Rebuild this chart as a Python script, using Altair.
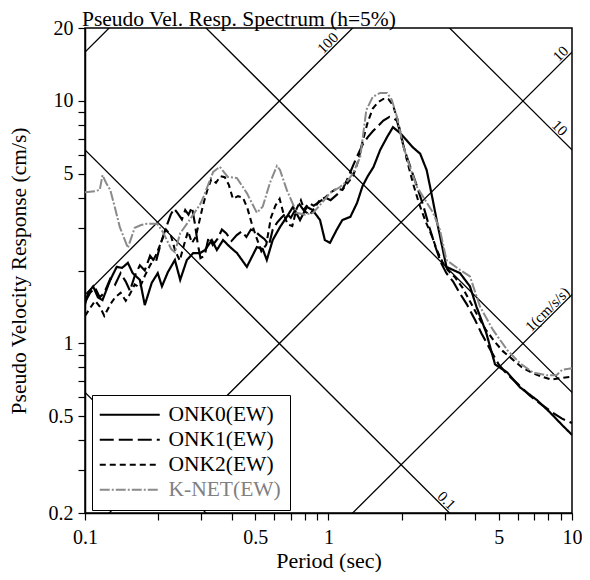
import math
import altair as alt
import pandas as pd

SERIES = ["ONK0(EW)", "ONK1(EW)", "ONK2(EW)", "K-NET(EW)"]

onk0_T = [0.100,0.103,0.108,0.113,0.118,0.127,0.135,0.142,0.150,0.157,
          0.168,0.176,0.188,0.199,0.207,0.219,0.234,0.246,0.262,0.278,
          0.297,0.311,0.332,0.348,0.369,0.394,0.421,0.462,0.508,0.537,
          0.558,0.590,0.632,0.674,0.715,0.764,0.815,0.861,0.923,0.966,
          1.014,1.08,1.14,1.23,1.31,1.38,1.45,1.53,1.63,1.74,
          1.84,1.97,2.09,2.22,2.38,2.53,2.61,2.68,2.78,2.95,
          3.05,3.47,3.81,4.05,4.44,4.83,5.42,6.11,7.17,8.12,
          9.13,10.0]
onk0_V = [1.45,1.62,1.72,1.55,1.51,1.83,2.07,2.05,2.15,1.95,
          1.83,1.44,1.78,1.95,1.72,1.97,2.21,1.83,2.21,2.36,
          2.36,2.43,2.67,2.43,2.67,2.50,2.36,2.07,2.50,2.45,
          2.21,2.67,3.02,3.33,3.66,3.23,3.66,3.55,3.23,2.67,
          2.60,2.94,3.23,3.33,3.80,4.46,4.90,5.34,6.28,7.10,
          7.80,7.37,6.90,6.44,6.06,5.19,4.46,3.91,3.23,2.43,
          2.07,1.95,1.72,1.42,1.11,0.82,0.76,0.66,0.585,0.52,
          0.46,0.42]

onk1_T = [0.100,0.105,0.110,0.115,0.120,0.127,0.133,0.140,0.147,0.153,
          0.160,0.168,0.176,0.185,0.195,0.205,0.215,0.225,0.232,0.240,
          0.250,0.258,0.266,0.275,0.283,0.290,0.298,0.310,0.322,0.335,
          0.350,0.365,0.380,0.400,0.420,0.440,0.460,0.480,0.500,0.520,
          0.545,0.570,0.590,0.615,0.640,0.670,0.700,0.730,0.760,0.790,
          0.830,0.870,0.920,0.970,1.02,1.08,1.14,1.20,1.26,1.31,
          1.38,1.45,1.52,1.60,1.68,1.78,1.85,1.91,1.97,2.05,
          2.16,2.30,2.45,2.60,2.75,2.90,3.05,3.25,3.45,3.70,
          4.00,4.25,4.60,5.00,5.40,6.00,6.70,7.50,8.30,9.10,
          10.0]
onk1_V = [1.48,1.62,1.70,1.55,1.62,1.85,1.75,1.95,1.80,1.65,
          1.90,2.10,2.00,2.30,2.15,2.60,3.00,3.40,3.60,3.45,
          3.25,3.55,3.40,3.65,3.10,2.60,2.25,2.30,2.75,2.55,
          2.70,2.95,2.85,2.65,2.80,2.90,2.75,2.95,2.90,2.80,
          2.70,2.55,2.95,3.15,3.30,3.45,3.30,3.55,3.75,3.55,
          3.80,3.70,3.85,4.00,3.90,4.10,4.30,4.80,5.40,5.90,
          6.60,7.10,7.50,7.90,8.30,8.60,8.50,8.30,7.40,6.30,
          5.40,4.50,3.70,3.00,2.50,2.15,1.95,1.80,1.62,1.45,
          1.25,1.10,0.95,0.82,0.75,0.68,0.61,0.56,0.52,0.49,
          0.47]

onk2_T = [0.100,0.105,0.110,0.115,0.120,0.127,0.133,0.140,0.147,0.153,
          0.160,0.168,0.176,0.185,0.195,0.205,0.215,0.225,0.235,0.245,
          0.255,0.265,0.275,0.285,0.295,0.305,0.318,0.330,0.345,0.360,
          0.375,0.390,0.405,0.425,0.445,0.465,0.485,0.505,0.530,0.555,
          0.580,0.605,0.630,0.655,0.680,0.710,0.740,0.770,0.800,0.840,
          0.880,0.920,0.970,1.02,1.08,1.14,1.20,1.26,1.32,1.38,
          1.45,1.52,1.60,1.68,1.76,1.84,1.92,2.00,2.10,2.22,
          2.35,2.50,2.65,2.80,2.95,3.10,3.30,3.55,3.80,4.10,
          4.40,4.80,5.20,5.70,6.20,6.80,7.50,8.20,9.00,10.0]
onk2_V = [1.30,1.40,1.50,1.42,1.30,1.45,1.55,1.62,1.50,1.60,
          1.75,1.70,1.90,2.10,2.30,2.60,2.95,2.80,2.40,2.20,
          2.55,2.90,2.60,2.75,3.20,3.70,4.30,4.75,4.60,4.90,
          4.85,4.50,3.95,4.05,4.00,3.60,3.10,2.75,2.40,2.55,
          3.30,3.70,3.95,3.40,3.10,3.05,3.60,3.90,3.50,3.40,
          3.65,3.90,4.00,4.20,4.35,4.30,4.60,4.90,5.60,6.80,
          8.20,9.30,9.90,10.2,10.2,9.60,8.40,7.00,5.70,4.60,
          3.80,3.20,2.80,2.40,2.15,2.00,1.88,1.70,1.50,1.30,
          1.15,1.02,0.93,0.86,0.80,0.76,0.73,0.71,0.72,0.73]

knet_T = [0.100,0.110,0.115,0.118,0.122,0.127,0.133,0.139,0.150,0.160,
          0.170,0.180,0.198,0.209,0.226,0.234,0.246,0.270,0.297,0.306,
          0.320,0.336,0.358,0.386,0.421,0.462,0.508,0.537,0.575,0.614,
          0.632,0.674,0.740,0.800,0.865,0.940,1.014,1.115,1.20,1.26,
          1.35,1.43,1.52,1.63,1.74,1.82,1.91,2.02,2.16,2.31,
          2.45,2.68,2.87,3.05,3.47,3.81,4.19,4.73,5.42,6.11,
          6.90,7.85,8.63,9.13,10.0]
knet_V = [4.20,4.25,4.30,4.95,4.60,4.30,3.60,3.02,2.48,3.00,
          3.08,3.12,3.12,2.88,2.45,2.38,2.85,3.25,3.75,4.00,
          4.50,5.10,5.35,4.86,4.81,4.17,3.46,3.67,4.60,5.40,
          5.20,4.30,3.46,3.40,3.46,3.80,4.17,4.42,4.70,5.03,
          5.87,9.18,10.4,10.8,10.8,10.1,8.62,6.60,5.34,4.42,
          4.02,3.48,2.94,2.21,2.01,1.89,1.42,1.14,0.94,0.83,
          0.76,0.74,0.74,0.78,0.79]

# tripartite reference lines
disp_cm = [0.01, 0.1, 1, 10]          # displacement lines
acc_gal = [1, 10, 100, 1000]          # acceleration lines (cm/s/s)
line_T_ends = [0.05, 20]

diag_labels = ["100", "10", "1(cm/s/s)", "10", "0.1"]
diag_kind = ["acc", "acc", "acc", "disp", "disp"]
diag_level = [100, 10, 1, 10, 0.1]
diag_at_T = [1.04, 9.4, 8.3, 8.5, 2.92]

x_ticks = [0.1, 0.2, 0.3, 0.4, 0.5, 0.6, 0.7, 0.8, 0.9, 1, 2, 3, 4, 5, 6, 7, 8, 9, 10]
y_ticks = [0.2, 0.3, 0.4, 0.5, 0.6, 0.7, 0.8, 0.9, 1, 2, 3, 4, 5, 6, 7, 8, 9, 10, 20]
x_labeled = [0.1, 0.5, 1, 5, 10]
y_labeled = [0.2, 0.5, 1, 5, 10, 20]

# ---- tables ----
rows = []
for name, Ts, Vs in zip(SERIES, [onk0_T, onk1_T, onk2_T, knet_T], [onk0_V, onk1_V, onk2_V, knet_V]):
    for t, v in zip(Ts, Vs):
        rows.append({"series": name, "T": t, "V": v})
curves = pd.DataFrame(rows)

grid_rows = []
for d in disp_cm:
    for t in line_T_ends:
        grid_rows.append({"id": f"d{d}", "T": t, "V": 2 * math.pi * d / t})
for a in acc_gal:
    for t in line_T_ends:
        grid_rows.append({"id": f"a{a}", "T": t, "V": a * t / (2 * math.pi)})
grid = pd.DataFrame(grid_rows)

lab_rows = []
for lab, kind, lev, t in zip(diag_labels, diag_kind, diag_level, diag_at_T):
    v = lev * t / (2 * math.pi) if kind == "acc" else 2 * math.pi * lev / t
    lab_rows.append({"label": lab, "kind": kind, "T": t, "V": v})
labs = pd.DataFrame(lab_rows)

FONT = "Liberation Serif"
xscale = alt.Scale(type="log", domain=[0.1, 10], nice=False)
yscale = alt.Scale(type="log", domain=[0.2, 20], nice=False)

xaxis = alt.Axis(values=x_ticks, format="~g", labelOverlap=False, labelFlush=False,
                 labelExpr=f"indexof({x_labeled}, datum.value) >= 0 ? datum.label : ''",
                 labelPadding=7, titlePadding=3, titleFontSize=22, grid=False)
yaxis = alt.Axis(values=y_ticks, format="~g", labelOverlap=False, labelFlush=False,
                 labelExpr=f"indexof({y_labeled}, datum.value) >= 0 ? datum.label : ''",
                 labelPadding=5, titlePadding=18, titleFontSize=21.5, grid=False)

X = alt.X("T:Q", scale=xscale, axis=xaxis, title="Period (sec)")
Y = alt.Y("V:Q", scale=yscale, axis=yaxis, title="Pseudo Velocity Response (cm/s)")

grid_layer = alt.Chart(grid).mark_line(color="black", strokeWidth=1.3, clip=True).encode(
    x=X, y=Y, detail="id:N")

legend = alt.Legend(orient="none", legendX=7, legendY=367, title=None,
                    symbolType="M-2.4,0H9.6", symbolSize=100,
                    labelFont=FONT, labelFontSize=21.5, labelOffset=46,
                    labelColor={"expr": "datum.label == 'K-NET(EW)' ? '#808080' : 'black'"},
                    padding=9, rowPadding=2, strokeColor="black", fillColor="white")

curve_layer = alt.Chart(curves).mark_line(clip=True).encode(
    x=X, y=Y,
    color=alt.Color("series:N", title=None,
                    scale=alt.Scale(domain=SERIES, range=["black", "black", "black", "#8a8a8a"]),
                    legend=legend),
    strokeDash=alt.StrokeDash("series:N", title=None,
                              scale=alt.Scale(domain=SERIES, range=[[1, 0], [14, 5], [6, 4], [10, 2, 2, 2]])),
    strokeWidth=alt.StrokeWidth("series:N", title=None,
                                scale=alt.Scale(domain=SERIES, range=[2.2, 2.0, 2.0, 1.2])),
)

up_labels = alt.Chart(labs).transform_filter("datum.kind == 'acc'").mark_text(
    angle=315, baseline="alphabetic", align="center", dy=-2, font=FONT, fontSize=15, color="black"
).encode(x=alt.X("T:Q", scale=xscale), y=alt.Y("V:Q", scale=yscale), text="label:N")

down_labels = alt.Chart(labs).transform_filter("datum.kind == 'disp'").mark_text(
    angle=45, baseline="alphabetic", align="center", dy=-2, font=FONT, fontSize=15, color="black"
).encode(x=alt.X("T:Q", scale=xscale), y=alt.Y("V:Q", scale=yscale), text="label:N")

chart = alt.layer(grid_layer, curve_layer, up_labels, down_labels).properties(
    width=487, height=485,
    background="white",
    title=alt.TitleParams("Pseudo Vel. Resp. Spectrum (h=5%)", anchor="start", frame="group",
                          font=FONT, fontSize=21.5, fontWeight="normal", color="black",
                          offset=0, dx=-3, dy=12),
    autosize=alt.AutoSizeParams(type="none"),
    padding={"left": 77, "top": 20, "right": 10, "bottom": 59},
).configure_view(stroke="black", strokeWidth=1.5).configure_axis(
    domainColor="black", domainWidth=1.5, tickColor="black", tickWidth=1.2, tickSize=7,
    labelFont=FONT, labelFontSize=20, labelColor="black",
    titleFont=FONT, titleFontWeight="normal", titleColor="black",
)

chart.save("out.html", embed_options={"renderer": "svg", "actions": False})
